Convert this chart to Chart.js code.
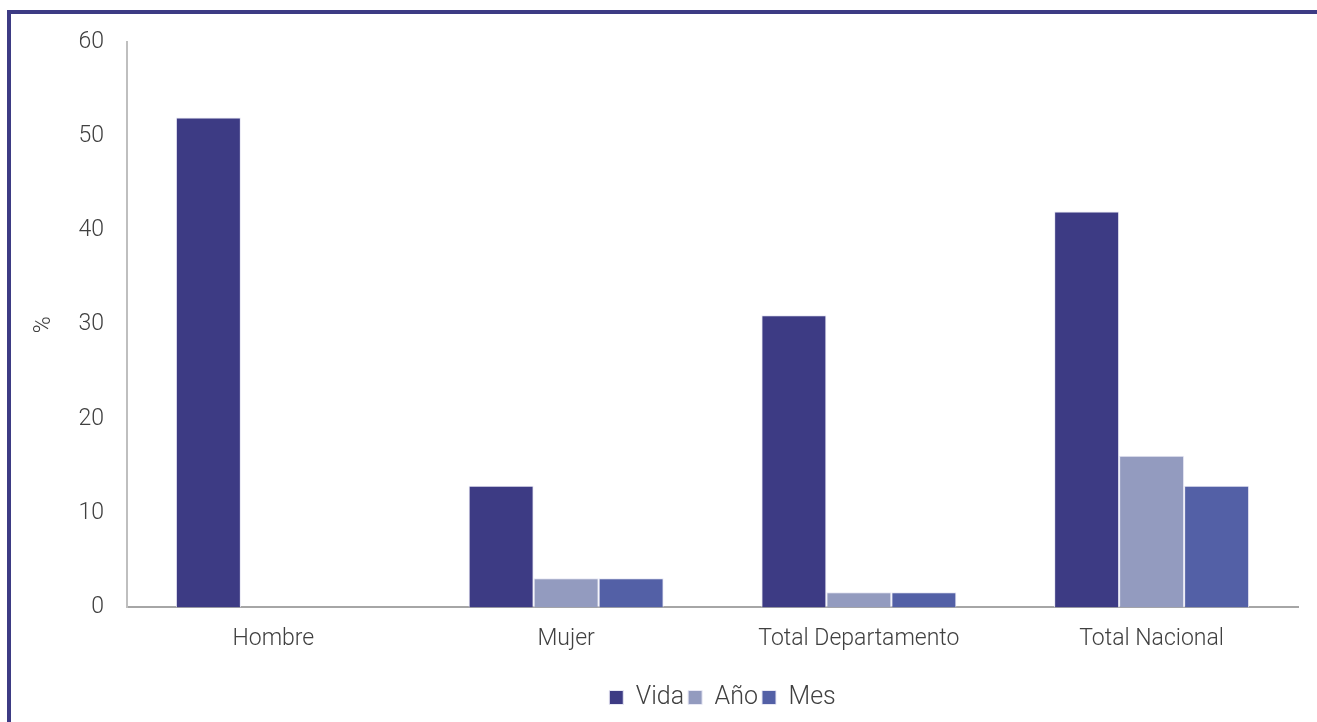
<!DOCTYPE html>
<html>
<head>
<meta charset="utf-8">
<script src="https://cdn.jsdelivr.net/npm/chart.js@4"></script>
<style>
  html, body { margin: 0; padding: 0; background: #fff; }
  #wrap { width: 1317px; height: 722px; position: relative; }
</style>
</head>
<body>
<div id="wrap"><canvas id="barchart"></canvas></div>
<script>
const categories = ['Hombre', 'Mujer', 'Total Departamento', 'Total Nacional'];
const vida = [52.0, 12.9, 31.0, 42.0];
const anio = [null, 3.1, 1.6, 16.1];
const mes = [null, 3.1, 1.6, 12.9];
const yTicks = [0, 10, 20, 30, 40, 50, 60];

const textFont = { family: 'Roboto', size: 23, weight: 300 };
const legendFont = { family: 'Roboto', size: 25, weight: 300 };

// dark frame on the top and left edges, legend nudged right
const framePlugin = {
    id: 'frame',
    afterLayout(chart) {
        chart.legend.left += 10;
        chart.legend.right += 10;
    },
    beforeDraw(chart) {
        const c = chart.ctx;
        c.save();
        c.fillStyle = '#3d3b84';
        c.fillRect(7, 10, 1310, 4);
        c.fillRect(7, 10, 4, 712);
        c.restore();
    }
};

const ctx = document.getElementById('barchart').getContext('2d');
const barchart = new Chart(ctx, {
    type: 'bar',
    data: {
        labels: categories,
        datasets: [
            { label: 'Vida', data: vida, backgroundColor: '#3d3b84' },
            { label: 'Año', data: anio, backgroundColor: '#939bbf' },
            { label: 'Mes', data: mes, backgroundColor: '#5360a6' }
        ].map(d => Object.assign(d, { borderColor: '#e8e8f4', borderWidth: 1 }))
    },
    options: {
        responsive: true,
        maintainAspectRatio: false,
        animation: false,
        categoryPercentage: 0.666,
        barPercentage: 1,
        layout: { padding: { top: 42, right: 19, bottom: 2, left: 0 } },
        plugins: {
            legend: {
                position: 'bottom',
                fullSize: false,
                labels: {
                    boxWidth: 14,
                    boxHeight: 14,
                    padding: 4,
                    color: '#404040',
                    font: legendFont
                }
            },
            tooltip: { enabled: false }
        },
        scales: {
            x: {
                afterFit: function (scale) { scale.height += 10; },
                grid: { display: false, drawTicks: false },
                border: { display: true, color: '#a6a6a6', width: 2 },
                ticks: { color: '#404040', font: textFont, padding: 18 }
            },
            y: {
                min: 0,
                max: 60,
                afterFit: function (scale) { scale.width = 127; },
                afterBuildTicks: function (scale) {
                    scale.ticks = yTicks.map(v => ({ value: v }));
                },
                grid: { display: false, drawTicks: false },
                border: { display: true, color: '#bfbfbf', width: 2 },
                ticks: { color: '#404040', font: textFont, padding: 23 },
                title: {
                    display: true,
                    text: '%',
                    color: '#404040',
                    font: textFont,
                    padding: { top: 30, bottom: 0 }
                }
            }
        }
    },
    plugins: [framePlugin]
});
</script>
</body>
</html>
